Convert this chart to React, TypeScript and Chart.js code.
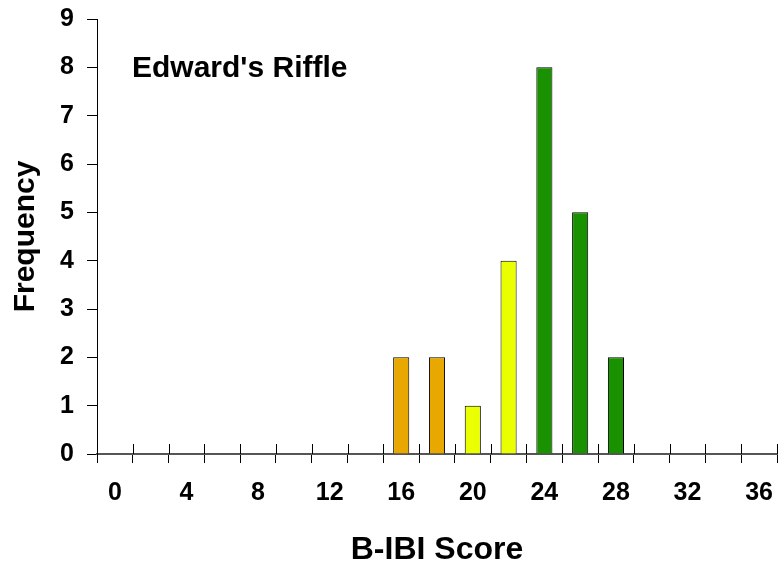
import React, { useEffect, useRef } from "react";
import { Chart, registerables } from "chart.js";

Chart.register(...registerables);

const scores = [0, 2, 4, 6, 8, 10, 12, 14, 16, 18, 20, 22, 24, 26, 28, 30, 32, 34, 36];
const frequency = [0, 0, 0, 0, 0, 0, 0, 0, 2, 2, 1, 4, 8, 5, 2, 0, 0, 0, 0];
const barColors = [
  "#E8A800", "#E8A800", "#E8A800", "#E8A800", "#E8A800", "#E8A800", "#E8A800", "#E8A800",
  "#E8A800", "#E8A800", "#EAFF00", "#EAFF00", "#1A9100", "#1A9100", "#1A9100",
  "#1A9100", "#1A9100", "#1A9100", "#1A9100",
];
const chartTitle = "Edward's Riffle";
const xTitle = "B-IBI Score";
const yTitle = "Frequency";
const FONT = "Arial, 'Liberation Sans', Helvetica, sans-serif";

const innerTicks = {
  id: "innerTicks",
  afterDraw(chart: any) {
    const { ctx, chartArea, scales } = chart;
    const x = scales.x;
    ctx.save();
    ctx.strokeStyle = "#000";
    ctx.lineWidth = 1;
    const n = scores.length;
    for (let i = 0; i <= n; i++) {
      const px = Math.round(x.getPixelForValue(i - 0.5)) + 0.5;
      ctx.beginPath();
      ctx.moveTo(px, chartArea.bottom - 10);
      ctx.lineTo(px, chartArea.bottom);
      ctx.stroke();
    }
    ctx.fillStyle = "#000";
    ctx.font = `bold 30px ${FONT}`;
    ctx.textAlign = "left";
    ctx.textBaseline = "alphabetic";
    ctx.fillText(chartTitle, 132, 77);
    ctx.restore();
  },
};

export default function App() {
  const ref = useRef<HTMLCanvasElement>(null);
  useEffect(() => {
    if (!ref.current) return;
    const chart = new Chart(ref.current, {
      type: "bar",
      data: {
        labels: scores.map(String),
        datasets: [
          {
            data: frequency,
            backgroundColor: barColors,
            borderColor: "#000",
            borderWidth: 1,
            barPercentage: 0.45,
            categoryPercentage: 1,
          },
        ],
      },
      options: {
        animation: false,
        responsive: false,
        layout: { padding: { top: 19, right: 1, left: 0, bottom: 0 } },
        plugins: { legend: { display: false }, tooltip: { enabled: false }, title: { display: false } },
        scales: {
          x: {
            offset: true,
            grid: {
              display: true,
              drawOnChartArea: false,
              drawTicks: true,
              tickLength: 9,
              offset: true,
              color: "#000",
              lineWidth: 1,
            },
            border: { display: true, color: "#555", width: 2 },
            ticks: {
              autoSkip: false,
              maxRotation: 0,
              padding: 15,
              color: "#000",
              font: { family: FONT, size: 25, weight: "bold" },
              callback: (_v: any, i: number) => (i % 2 === 0 ? scores[i] : ""),
            },
            title: {
              display: true,
              text: xTitle,
              color: "#000",
              font: { family: FONT, size: 32, weight: "bold", lineHeight: 1 },
              padding: { top: 0, bottom: 3 },
            },
            afterFit: (s: any) => {
              s.height = 115;
              s.paddingLeft = 0;
              s.paddingRight = 0;
            },
          },
          y: {
            min: 0,
            max: 9,
            grid: {
              display: true,
              drawOnChartArea: false,
              drawTicks: true,
              tickLength: 10,
              color: "#000",
            },
            border: { display: true, color: "#000", width: 1 },
            ticks: {
              stepSize: 1,
              padding: 13,
              color: "#000",
              font: { family: FONT, size: 25, weight: "bold" },
            },
            title: {
              display: true,
              text: yTitle,
              color: "#000",
              font: { family: FONT, size: 30, weight: "bold", lineHeight: 1 },
              padding: { top: 11, bottom: 0 },
            },
            afterFit: (s: any) => {
              s.width = 97;
              s.paddingTop = 0;
              s.paddingBottom = 0;
            },
          },
        },
      },
      plugins: [innerTicks],
    });
    return () => chart.destroy();
  }, []);
  return (
    <div style={{ position: "absolute", left: 0, top: 0, width: 778, height: 569, background: "#fff" }}>
      <canvas ref={ref} width={778} height={569} />
    </div>
  );
}
